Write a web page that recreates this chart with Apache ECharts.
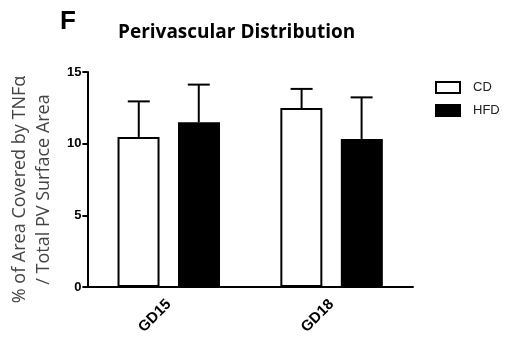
<!DOCTYPE html>
<html>
<head>
<meta charset="utf-8">
<script src="https://cdn.jsdelivr.net/npm/echarts@6/dist/echarts.min.js"></script>
<style>
  html, body { margin: 0; padding: 0; background: #fff; }
  #char { width: 511px; height: 348px; }
</style>
</head>
<body>
<div id="char"></div>
<script>
// perivascular distribution, mean + upper error
const categories = ['GD15', 'GD18'];
const cdMean = [10.47, 12.49];
const cdErr = [2.48, 1.33];
const hfdMean = [11.49, 10.33];
const hfdErr = [2.63, 2.9];
const yTicks = [0, 5, 10, 15];

const charEch = echarts.init(document.getElementById('char'));

// error bar drawn above a bar, shifted by offset px from the category centre
function errorBar(offset) {
    return function (params, api) {
        const top = api.coord([api.value(0), api.value(2)]);
        const base = api.coord([api.value(0), api.value(1)]);
        const x = top[0] + offset;
        return {
            type: 'group',
            children: [
                { type: 'line', shape: { x1: x, y1: base[1], x2: x, y2: top[1] }, style: { stroke: '#000', lineWidth: 2 } },
                { type: 'line', shape: { x1: x - 11, y1: top[1], x2: x + 11, y2: top[1] }, style: { stroke: '#000', lineWidth: 2 } }
            ]
        };
    };
}

const option = {
    animation: false,
    title: [
        { text: 'F', left: 60, top: 9, padding: 0, textStyle: { fontSize: 26, fontWeight: 'bold', color: '#000', fontFamily: 'Liberation Sans' } },
        { text: 'Perivascular Distribution', left: 118, top: 23, padding: 0, textStyle: { fontSize: 19, fontWeight: 'bold', color: '#000', fontFamily: 'Open Sans' } }
    ],
    legend: {
        data: ['CD', 'HFD'],
        orient: 'vertical',
        left: 435,
        top: 81,
        padding: 0,
        itemWidth: 24,
        itemHeight: 11,
        itemGap: 10,
        icon: 'rect',
        textStyle: { fontSize: 13, color: '#222', fontFamily: 'Liberation Sans', padding: [0, 0, 0, 8] }
    },
    grid: { left: 86, right: 98, top: 72, bottom: 61 },
    xAxis: {
        type: 'category',
        data: categories,
        axisLine: { lineStyle: { color: '#000', width: 2 } },
        axisTick: { alignWithLabel: true, length: 5, lineStyle: { color: '#000', width: 2 } },
        axisLabel: { rotate: 45, fontSize: 15, fontWeight: 'bold', color: '#000', fontFamily: 'Liberation Sans', margin: 15 }
    },
    yAxis: {
        type: 'value',
        min: yTicks[0],
        max: yTicks[yTicks.length - 1],
        interval: 5,
        name: '% of Area Covered by TNFα\n/ Total PV Surface Area',
        nameLocation: 'middle',
        nameGap: 29,
        nameTextStyle: { fontSize: 18, color: '#444', fontFamily: 'Open Sans', lineHeight: 24, padding: [0, 20, 0, 0] },
        splitLine: { show: false },
        axisLine: { show: true, lineStyle: { color: '#000', width: 2 } },
        axisTick: { show: true, length: 5, lineStyle: { color: '#000', width: 2 } },
        axisLabel: { fontSize: 13, fontWeight: 'bold', color: '#000', fontFamily: 'Liberation Sans', margin: 6 }
    },
    series: [
        {
            name: 'CD', type: 'bar', data: cdMean, barWidth: 42, barGap: '44%',
            itemStyle: { color: '#fff', borderColor: '#000', borderWidth: 2 }
        },
        {
            name: 'HFD', type: 'bar', data: hfdMean, barWidth: 42,
            itemStyle: { color: '#000', borderColor: '#000', borderWidth: 2 }
        },
        {
            name: 'CD err', type: 'custom', renderItem: errorBar(-30), z: 1,
            data: cdMean.map((v, i) => [i, v, v + cdErr[i]])
        },
        {
            name: 'HFD err', type: 'custom', renderItem: errorBar(30), z: 1,
            data: hfdMean.map((v, i) => [i, v, v + hfdErr[i]])
        }
    ]
};
charEch.setOption(option);
</script>
</body>
</html>
